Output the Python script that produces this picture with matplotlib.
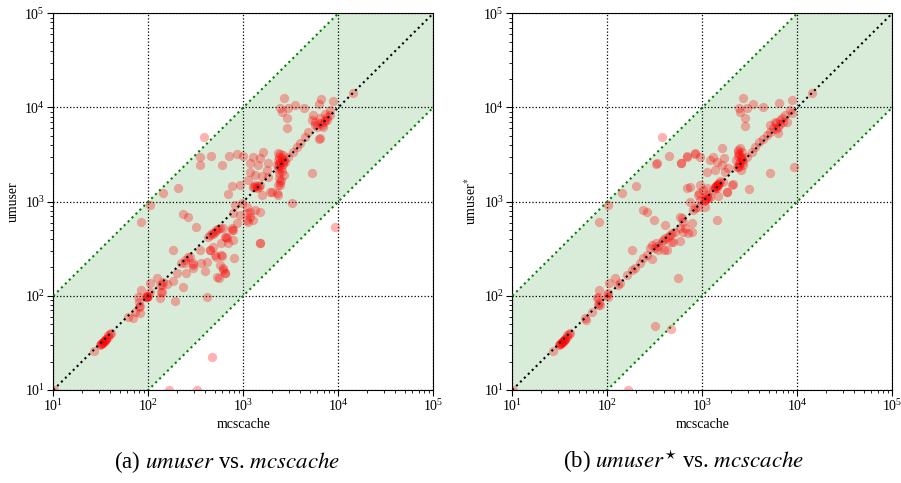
import matplotlib
matplotlib.use("Agg")
import matplotlib.pyplot as plt
import numpy as np

plt.rcParams['font.family'] = ['Liberation Serif', 'DejaVu Serif']
plt.rcParams['mathtext.fontset'] = 'stix'

# ---------------- data (a): umuser vs mcscache ----------------
a_x = [14400, 8860, 6500, 6300, 2680, 3500, 4355, 2435, 2980, 2535, 2865, 2865,
       8180, 8180, 7245, 6420, 5690, 6950, 5930, 7600, 7000, 7600, 6700, 6420, 7245,
       5250, 6310, 5420, 5250, 5690, 6420,
       4830, 4460, 3950, 3650, 3360, 2980, 2750,
       386, 350, 454, 350, 593, 700, 853, 1000,
       207, 144,
       2300, 2450, 2600, 2400, 2550, 2300, 2650, 2450, 2350, 2600, 2400, 2500, 2300,
       2550, 2400, 2650, 2350, 2500, 2450, 2300, 2600, 2250,
       1266, 1500, 1612, 1178, 1440, 1820, 1763,
       1178, 1329, 1564, 1830,
       1266, 1330, 1400, 1500, 1380, 1300, 1450,
       755, 923, 690, 1130, 1910, 2435, 2248,
       104, 233, 264, 318, 83,
       428, 470, 500, 520, 480, 450, 540, 565,
       615, 755, 853,
       668, 690, 582, 446, 503, 593, 798,
       182, 350, 275, 243, 298, 362, 412,
       569, 615, 641, 525, 559, 395,
       199, 233, 182, 156, 122, 138,
       1500, 1500, 1087, 1130, 1329, 1500, 3235, 9230,
       412, 191, 133, 96, 104, 138,
       780, 663, 480, 443, 520, 587,
       262, 241, 222, 296, 251, 296,
       611, 637, 143, 132, 137, 103.5,
       95, 98, 100, 97, 84, 78, 80, 82, 80,
       72, 81, 69, 61,
       40.8, 37.7, 34.8, 32.8, 30.8, 33, 35, 36, 34, 32, 33.5, 35.5, 38, 40, 31.5,
       26.6, 472, 10.1, 165, 324,
       818, 962, 1087, 1178, 1178, 1275, 1087, 785, 923, 755, 2335, 1990, 1564, 641, 780]
a_y = [14100, 11700, 12200, 11000, 12500, 10600, 9930, 9930, 9930, 9000, 7650, 6000,
       9380, 8300, 7350, 6780, 7050, 6240, 6240, 8000, 7000, 7350, 6500, 7700, 8600,
       1993, 4580, 8300, 7350, 6500, 4700,
       5520, 4890, 4160, 3830, 3390, 3000, 2655,
       4890, 3000, 3050, 2450, 2450, 3050, 3200, 3050,
       1384, 1224,
       3300, 3200, 3100, 3000, 2900, 2800, 2750, 2650, 2550, 2500, 2400, 2300, 2200,
       2100, 2000, 1900, 1800, 1700, 1600, 1500, 2650, 2450,
       3000, 2880, 3390, 2550, 2450, 2550, 2165,
       2075, 1913, 1880, 1837,
       1440, 1500, 1460, 1500, 1384, 1420, 1420,
       1464, 1500, 1210, 1695, 1274, 1500, 1224,
       920, 738, 691, 534, 612,
       424, 460, 480, 500, 450, 440, 510, 521,
       521, 521, 589,
       408, 366, 361, 306, 271, 267, 250,
       306, 306, 260, 240, 212, 221, 230,
       212, 196, 176, 160, 153, 183,
       173, 125, 144, 132, 153, 130,
       361, 361, 751, 612, 815, 782, 959, 542,
       98, 88, 94, 98, 111, 109,
       500, 424, 332, 306, 260, 271,
       260, 221, 221, 221, 173, 196,
       188, 173, 141, 130, 111, 136,
       98, 100, 100, 96, 115, 98, 86.5, 78, 75.5,
       68, 65, 58.6, 59,
       40, 36.8, 34, 31.8, 30, 31.3, 33, 34.5, 33, 31, 32.5, 35, 38, 39, 30.5,
       26.1, 22.2, 10.1, 10, 10,
       920, 959, 883, 782, 691, 638, 638, 751, 721, 500, 1175, 1274, 1175, 424, 391]

# ---------------- data (b): umuser* vs mcscache ----------------
b_x = [14200, 8730, 6470,
       8370, 7420, 6560, 5840, 5140, 7780, 6880, 6300, 5530, 8850, 7000, 6000, 6600, 5900,
       2700, 2450, 2930, 3440, 4325, 2480, 2820, 2820,
       6300, 5140, 9140,
       379, 325, 335, 449, 686, 838, 597,
       200, 144, 101, 82, 236, 264, 311,
       2400, 2500, 2600, 2350, 2600, 2250, 2450, 2650, 2300, 2550, 2450, 2600, 2350,
       2500, 2450, 2550,
       1305, 1600, 1205, 1420, 1690, 1112, 1360, 1600, 1733, 1880, 946, 838, 686, 593,
       1360, 1420, 1472, 1305, 1663, 2120, 1807, 3125, 1130, 946, 914, 741, 690, 1112, 1067,
       1400, 1380, 1350, 1420, 1450, 1500, 1550,
       5140, 4760, 4385, 3980, 3590, 3310, 2930, 2660, 2395,
       1050, 1100, 1150, 1200,
       741, 838, 912, 1067, 1440,
       607, 631, 773, 658, 713, 582, 496, 422,
       405, 457, 516, 582, 436, 480,
       374, 344, 318, 282, 293, 181,
       260, 240, 293, 221, 196, 181, 160, 136, 131,
       558, 120, 105, 99, 101,
       328, 384, 340, 398, 470,
       77, 84, 68.5, 58, 59, 82, 80, 102, 80, 82,
       40.8, 37.7, 34.8, 32.8, 30.8, 33, 35, 36, 34, 32, 33.5, 35.5, 38, 40, 31.5,
       26.6, 320, 472, 10.1, 165,
       908, 1025, 946, 804, 1112, 1472, 1807, 2040, 405, 582, 631, 773]
b_y = [14130, 12000, 11070,
       9380, 8300, 7350, 6950, 6500, 6950, 7650, 6240, 6000, 8700, 7000, 6800, 6600, 5900,
       12500, 9800, 9800, 10800, 10000, 9000, 7650, 6300,
       5310, 1993, 2350,
       4890, 2500, 2560, 3050, 3050, 3260, 2600,
       1464, 1224, 920, 612, 815, 770, 638,
       3530, 3700, 3370, 3050, 2900, 2770, 2570, 2450, 2330, 2165, 3200, 2770, 3400,
       2650, 2400, 3000,
       3000, 3680, 2770, 2655, 2880, 2075, 2165, 2450, 2046, 2255, 3000, 3200, 3000, 2600,
       1440, 1384, 1500, 1328, 1626, 1527, 1256, 1362, 1384, 1500, 1224, 1440, 1410, 1127, 1040,
       1450, 1480, 1400, 1500, 1550, 1580, 1650,
       5520, 5090, 4680, 4265, 3830, 3390, 3000, 2655, 2350,
       1020, 1080, 1100, 1130,
       997, 849, 883, 883, 638,
       675, 612, 589, 521, 460, 382, 375, 306,
       408, 442, 479, 521, 424, 460,
       375, 340, 319, 319, 346, 306,
       271, 250, 245, 221, 196, 188, 166, 136, 130,
       153, 156, 136, 102, 106,
       361, 391, 306, 306, 375,
       94, 80, 67.8, 57.7, 55.4, 115, 98, 98, 80, 83,
       40, 36.8, 34, 31.8, 30, 31.3, 33, 34.5, 33, 31, 32.5, 35, 38, 39, 30.5,
       26.1, 47.8, 44, 10.1, 10,
       1175, 1328, 1040, 815, 1175, 1146, 1274, 1500, 565, 691, 479, 479]

panels = [
    (a_x, a_y, "umuser", r"(a) $\mathit{umuser}$ vs. $\mathit{mcscache}$"),
    (b_x, b_y, r"umuser$^{*}$", r"(b) $\mathit{umuser}^{\star}$ vs. $\mathit{mcscache}$"),
]
xlabel = "mcscache"
lim = (10, 1e5)

fig = plt.figure(figsize=(9.01, 4.83), dpi=100)
lefts = [53.3 / 901, 512.3 / 901]
cap_x = [227 / 901, 684 / 901]
W = 380 / 901
B = (483 - 390) / 483
H = 376.7 / 483

for i, (xs, ys, ylab, cap) in enumerate(panels):
    ax = fig.add_axes([lefts[i], B, W, H])
    ax.set_xscale('log')
    ax.set_yscale('log')
    ax.set_xlim(*lim)
    ax.set_ylim(*lim)
    bx = np.array(lim)
    ax.fill_between(bx, bx / 10, bx * 10, color='green', alpha=0.15, linewidth=0, zorder=0.5)
    ax.scatter(xs, ys, s=45, color='red', alpha=0.3, linewidths=0, zorder=2)
    ax.plot(bx, bx, color='black', linestyle=':', linewidth=1.5, zorder=3)
    ax.plot(bx, bx / 10, color='green', linestyle=':', linewidth=1.5, zorder=3)
    ax.plot(bx, bx * 10, color='green', linestyle=':', linewidth=1.5, zorder=3)
    ax.grid(True, which='major', color='black', linestyle=':', linewidth=0.9)
    ax.tick_params(which='major', direction='out', length=4, labelsize=10, pad=2)
    ax.tick_params(which='minor', direction='out', length=2)
    ax.set_xlabel(xlabel, fontsize=10, labelpad=3)
    ax.set_ylabel(ylab, fontsize=10, labelpad=3)
    fig.text(cap_x[i], 1 - 462 / 483, cap, ha='center', va='center', fontsize=16.5)

fig.savefig("out.png", dpi=100)
